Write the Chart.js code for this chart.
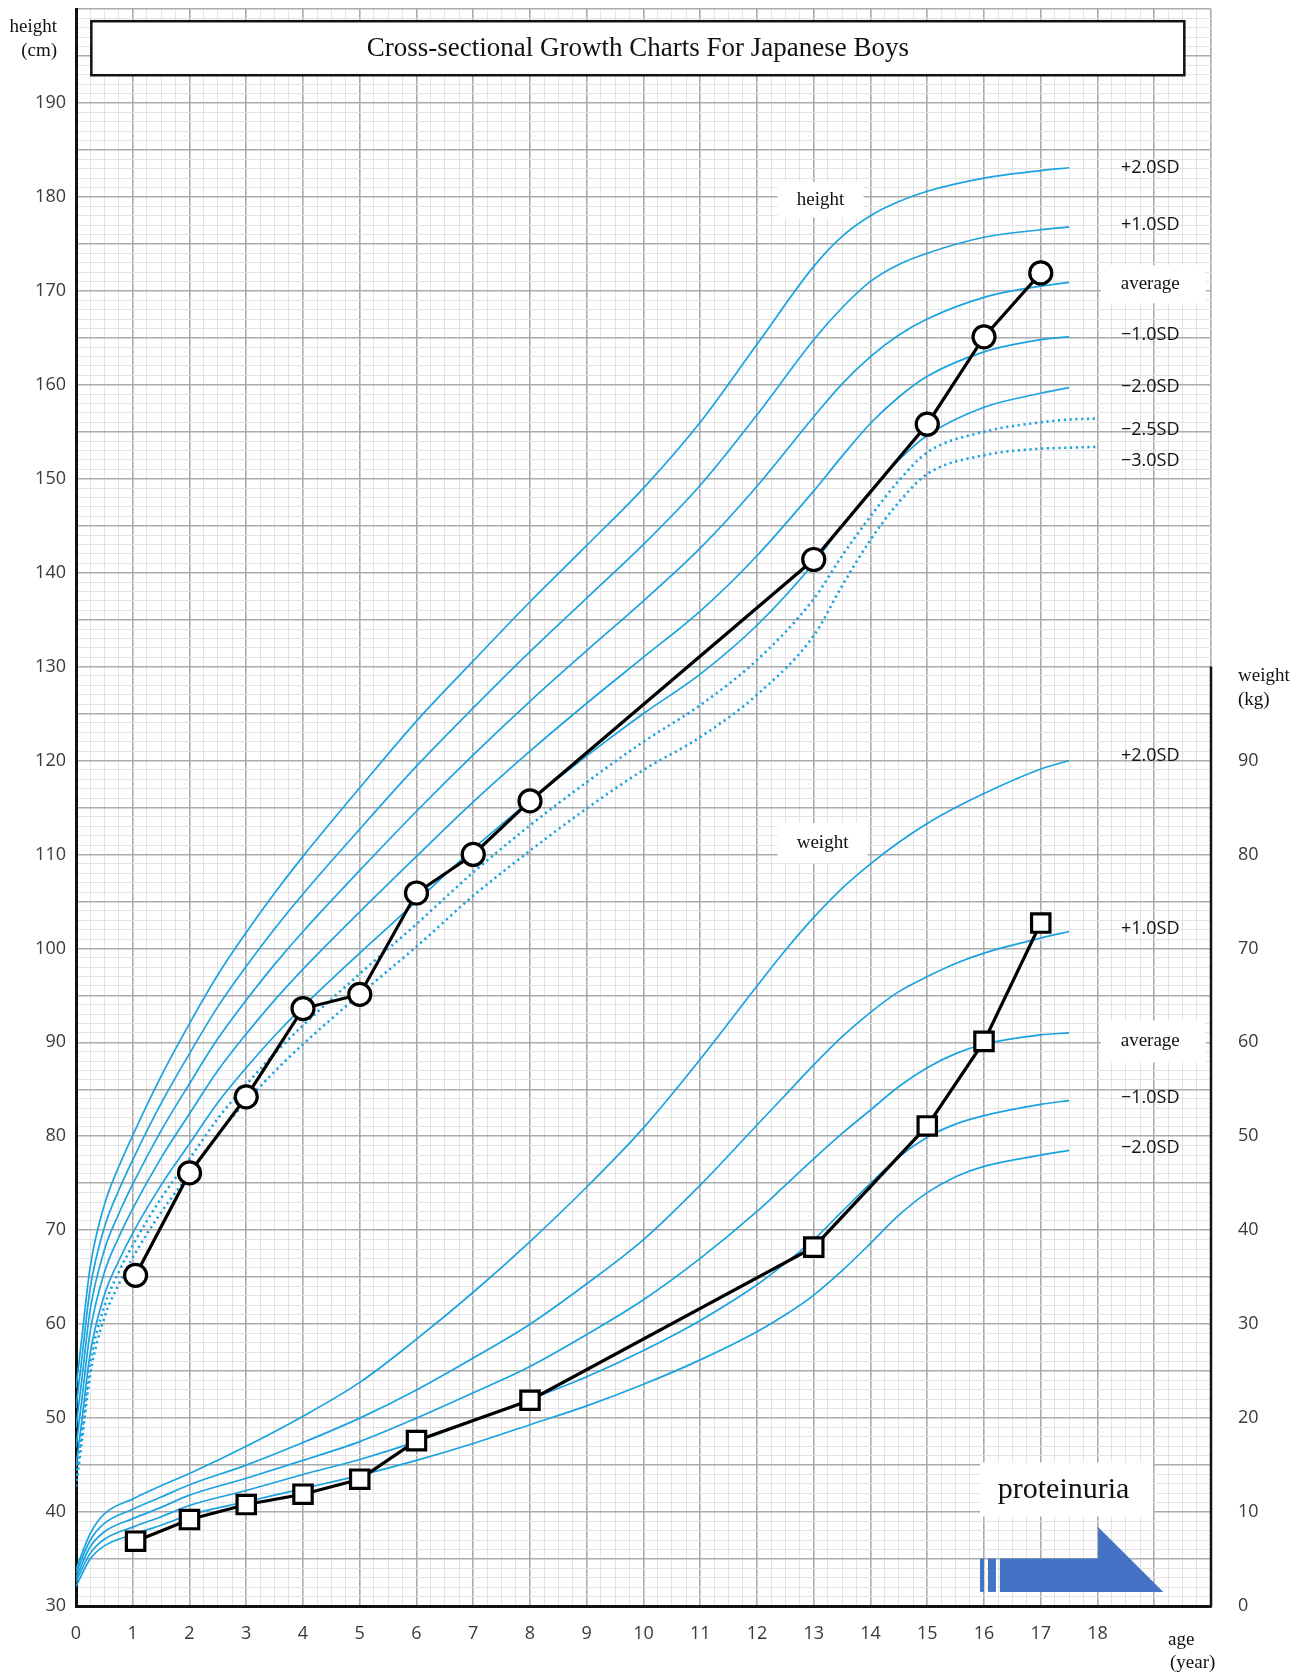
<!DOCTYPE html>
<html><head><meta charset="utf-8">
<script src="https://cdn.jsdelivr.net/npm/chart.js@4.4.1/dist/chart.umd.min.js"></script>
<style>html,body{margin:0;padding:0;background:#fff}#wrap{width:1307px;height:1673px;position:relative}</style>
</head><body><div id="wrap"><canvas id="c" width="1307" height="1673"></canvas></div>
<script>
// ---------------- data ----------------
const titleText = 'Cross-sectional Growth Charts For Japanese Boys';
const xTickMax = 18;

const heightAges = [0,0.1,0.25,0.5,0.75,1,1.5,2,2.5,3,3.5,4,5,6,7,8,9,10,11,12,13,13.5,14,14.5,15,16,17,17.5];
const heightP2SD = [53.2,58.4,66.1,72.7,76.7,80.1,86.4,92.0,97.2,101.7,105.9,109.8,117.1,124.2,130.6,136.9,142.9,149.0,156.0,164.3,172.6,175.8,178.0,179.5,180.6,182.0,182.8,183.1];
const heightP1SD = [51.1,56.2,63.8,70.3,74.2,77.5,83.5,88.8,93.8,98.1,102.1,105.8,112.7,119.4,125.6,131.6,137.3,143.0,149.3,156.8,164.8,168.2,171.0,172.8,174.0,175.7,176.5,176.8];
const heightAvg  = [49.0,54.0,61.5,67.9,71.7,74.9,80.6,85.6,90.4,94.5,98.3,101.8,108.3,114.6,120.6,126.3,131.7,137.0,142.6,149.2,156.6,160.1,163.0,165.3,167.0,169.3,170.5,170.9];
const heightM1SD = [46.9,51.8,59.2,65.5,69.2,72.3,77.7,82.4,87.0,90.9,94.5,97.8,103.9,109.8,115.6,121.0,126.1,131.0,135.9,141.8,148.7,152.4,155.9,158.7,160.9,163.5,164.8,165.1];
const heightM2SD = [44.8,49.6,56.9,63.1,66.7,69.7,74.8,79.2,83.6,87.3,90.7,93.8,99.5,105.0,110.6,115.7,120.5,125.0,129.2,134.4,141.0,145.0,148.7,152.0,154.6,157.6,159.1,159.7];
const dottedAges = [0,0.1,0.25,0.5,0.75,1,1.5,2,2.5,3,3.5,4,5,6,7,8,9,10,11,12,13,13.5,14,14.5,15,16,17,17.5,18];
const heightM25SD = [43.8,48.5,55.8,61.9,65.5,68.4,73.4,77.6,81.9,85.5,88.8,91.8,97.3,102.6,108.1,113.1,117.7,122.0,125.9,130.7,137.2,141.8,146.0,149.8,152.8,155.0,156.0,156.3,156.4];
const heightM3SD  = [42.7,47.4,54.6,60.7,64.2,67.1,71.9,76.0,80.2,83.7,86.9,89.8,95.1,100.2,105.6,110.4,114.9,119.0,122.5,127.0,133.3,138.6,143.5,147.5,150.5,152.5,153.2,153.3,153.4];

const weightAges = [0,0.25,0.5,1,1.5,2,3,4,5,6,7,8,9,10,11,12,12.5,13,13.5,14,14.5,15,15.5,16,17,17.5];
const weightP2SD = [3.9,7.7,9.8,11.4,12.8,14.1,17.0,20.2,23.8,28.4,33.4,38.8,44.6,50.9,58.2,66.0,69.8,73.3,76.4,79.0,81.3,83.3,85.0,86.5,89.1,90.0];
const weightP1SD = [3.5,7.0,8.8,10.3,11.6,12.9,15.0,17.4,20.0,23.0,26.4,30.0,34.3,39.0,44.8,51.2,54.4,57.6,60.6,63.2,65.4,67.0,68.4,69.5,71.1,71.8];
const weightAvg  = [3.0,6.3,7.9,9.3,10.5,11.8,13.6,15.5,17.5,20.0,22.7,25.5,28.9,32.6,37.0,42.0,44.8,47.6,50.3,52.8,55.3,57.3,58.8,59.8,60.8,61.0];
const weightM1SD = [2.6,5.6,7.1,8.4,9.5,10.7,12.3,14.0,15.6,17.5,19.7,22.0,24.4,27.2,30.4,34.2,36.5,39.0,42.0,45.0,47.8,49.9,51.3,52.2,53.4,53.8];
const weightM2SD = [2.1,5.0,6.4,7.6,8.6,9.7,11.1,12.5,13.9,15.5,17.3,19.3,21.3,23.6,26.2,29.2,31.0,33.1,35.7,38.6,41.6,44.0,45.7,46.8,48.0,48.5];

const patientHeightAges = [1.05,2,3,4,5,6,7,8,13,15,16,17];
const patientHeight     = [65.2,76.1,84.2,93.6,95.1,105.9,110.0,115.7,141.4,155.8,165.1,171.9];
const patientWeightAges = [1.05,2,3,4,5,6,8,13,15,16,17];
const patientWeight     = [6.9,9.2,10.8,11.9,13.5,17.6,21.9,38.2,51.1,60.1,72.7];

const heightLabels = [['+2.0SD',183.1],['+1.0SD',177.05],['average',170.7],['\u22121.0SD',165.3],['\u22122.0SD',159.8],['\u22122.5SD',155.2],['\u22123.0SD',151.9]];
const weightLabels = [['+2.0SD',90.45],['+1.0SD',72.05],['average',60.1],['\u22121.0SD',54.1],['\u22122.0SD',48.75]];
const proteinuriaArrow = {bar1:[15.93,16.0], bar2:[16.07,16.21], body:[16.28,18.01], tip:19.16, low:1.5, high:5.05, headTop:8.4};

// ---------------- helpers ----------------
const BLUE = '#1ba3e0';
const pts = (xs, ys) => xs.map((x, i) => ({x, y: ys[i]}));
function curve(xs, ys, axis, dotted) {
  return {data: pts(xs, ys), yAxisID: axis, borderColor: BLUE, borderWidth: dotted ? 2.6 : 1.7,
    borderDash: dotted ? [2.2, 3.6] : [], pointRadius: 0, cubicInterpolationMode: 'monotone', fill: false};
}
const SERIF = '"Liberation Serif", "Times New Roman", serif';
const SANS = '"Open Sans", "Noto Sans", sans-serif';
const noPad = s => { s.paddingTop = 0; s.paddingBottom = 0; s.paddingLeft = 0; s.paddingRight = 0; };

const chrome = {
  id: 'chrome',
  afterDatasetsDraw(chart) {
    const {ctx, scales: {x, y, y2}} = chart;
    ctx.save();
    const box = (cx, cy, w, h) => { ctx.fillStyle = '#fff'; ctx.fillRect(cx - w / 2, cy - h / 2, w, h); };
    const lx = x.getPixelForValue(18.93);
    ctx.textAlign = 'center'; ctx.textBaseline = 'middle';
    heightLabels.forEach(([t, v]) => {
      const py = y.getPixelForValue(v);
      if (t === 'average') { box(lx + 3, py, 105, 38); ctx.font = '19px ' + SERIF; }
      else ctx.font = '18px ' + SANS;
      ctx.fillStyle = '#111'; ctx.fillText(t, lx, py);
    });
    weightLabels.forEach(([t, v]) => {
      const py = y2.getPixelForValue(v);
      if (t === 'average') { box(lx + 3, py, 105, 42); ctx.font = '19px ' + SERIF; }
      else ctx.font = '18px ' + SANS;
      ctx.fillStyle = '#111'; ctx.fillText(t, lx, py);
    });
    const hx = x.getPixelForValue(13.12);
    box(hx, y.getPixelForValue(179.7), 86, 36);
    box(hx + 2, y2.getPixelForValue(81.2), 90, 40);
    ctx.fillStyle = '#111'; ctx.font = '19px ' + SERIF;
    ctx.fillText('height', hx, y.getPixelForValue(179.7));
    ctx.fillText('weight', hx + 2, y2.getPixelForValue(81.2));
    const px1 = x.getPixelForValue(15.93), px2 = x.getPixelForValue(18.98);
    const pyc = y2.getPixelForValue(12.4);
    ctx.fillStyle = '#fff'; ctx.fillRect(px1, pyc - 27, px2 - px1, 54);
    ctx.fillStyle = '#111'; ctx.font = '30px ' + SERIF;
    ctx.fillText('proteinuria', (px1 + px2) / 2 - 3, pyc + 1);
    const A = proteinuriaArrow;
    const yl = y2.getPixelForValue(A.low), yh = y2.getPixelForValue(A.high), yt = y2.getPixelForValue(A.headTop);
    ctx.fillStyle = '#4472c4';
    [A.bar1, A.bar2].forEach(([a, b]) => {
      const xa = x.getPixelForValue(a), xb = x.getPixelForValue(b);
      ctx.fillRect(xa, yh, xb - xa, yl - yh);
    });
    const b0 = x.getPixelForValue(A.body[0]), b1 = x.getPixelForValue(A.body[1]), tip = x.getPixelForValue(A.tip);
    ctx.beginPath();
    ctx.moveTo(b0, yh); ctx.lineTo(b1, yh); ctx.lineTo(b1, yt); ctx.lineTo(tip, yl); ctx.lineTo(b0, yl); ctx.closePath();
    ctx.fill();
    ctx.restore();
  },
  afterDraw(chart) {
    const {ctx, chartArea: ca, scales: {x, y, y2}} = chart;
    ctx.save();
    ctx.strokeStyle = '#111'; ctx.lineWidth = 2.5;
    ctx.beginPath(); ctx.moveTo(ca.right, y2.getPixelForValue(100)); ctx.lineTo(ca.right, ca.bottom + 1); ctx.stroke();
    const tx0 = x.getPixelForValue(0.27), tx1 = x.getPixelForValue(19.53);
    const ty0 = y.getPixelForValue(198.7), ty1 = y.getPixelForValue(192.95);
    ctx.fillStyle = '#fff'; ctx.fillRect(tx0, ty0, tx1 - tx0, ty1 - ty0);
    ctx.lineWidth = 2.5; ctx.strokeStyle = '#111'; ctx.strokeRect(tx0, ty0, tx1 - tx0, ty1 - ty0);
    ctx.fillStyle = '#111'; ctx.font = '27px ' + SERIF; ctx.textAlign = 'center'; ctx.textBaseline = 'middle';
    ctx.fillText(titleText, (tx0 + tx1) / 2, (ty0 + ty1) / 2 + 1);
    ctx.font = '19px ' + SERIF; ctx.textAlign = 'right';
    ctx.fillText('height', 57, 27); ctx.fillText('(cm)', 57, 51);
    ctx.textAlign = 'left';
    ctx.fillText('weight', 1238, 676); ctx.fillText('(kg)', 1238, 700);
    ctx.fillText('age', 1168, 1640); ctx.fillText('(year)', 1170, 1663);
    ctx.restore();
  }
};

const majorX = v => Number.isInteger(v);
const majorY = v => Math.abs(v % 5) < 1e-9;

new Chart(document.getElementById('c'), {
  type: 'line',
  data: {
    datasets: [
      {data: pts(patientHeightAges, patientHeight), yAxisID: 'y', borderColor: '#000', borderWidth: 3.2,
       pointStyle: 'circle', pointRadius: 11, pointBorderWidth: 3.2, pointBackgroundColor: '#fff', pointBorderColor: '#000', tension: 0},
      {data: pts(patientWeightAges, patientWeight), yAxisID: 'y2', borderColor: '#000', borderWidth: 3.2,
       pointStyle: 'rect', pointRadius: 13, pointBorderWidth: 3.2, pointBackgroundColor: '#fff', pointBorderColor: '#000', tension: 0},
      curve(heightAges, heightP2SD, 'y'), curve(heightAges, heightP1SD, 'y'), curve(heightAges, heightAvg, 'y'),
      curve(heightAges, heightM1SD, 'y'), curve(heightAges, heightM2SD, 'y'),
      curve(dottedAges, heightM25SD, 'y', true), curve(dottedAges, heightM3SD, 'y', true),
      curve(weightAges, weightP2SD, 'y2'), curve(weightAges, weightP1SD, 'y2'), curve(weightAges, weightAvg, 'y2'),
      curve(weightAges, weightM1SD, 'y2'), curve(weightAges, weightM2SD, 'y2')
    ]
  },
  options: {
    responsive: false, animation: false, devicePixelRatio: 1,
    layout: {autoPadding: false, padding: {top: 9, left: 0, right: 0, bottom: 0}},
    plugins: {legend: {display: false}, tooltip: {enabled: false}},
    elements: {line: {borderCapStyle: 'butt'}},
    scales: {
      x: {type: 'linear', min: 0, max: 20,
        afterFit: s => { s.height = 67; noPad(s); },
        ticks: {stepSize: 0.25, autoSkip: false, maxRotation: 0, padding: 17, color: '#3a3a3a', font: {family: SANS, size: 18},
          callback: v => (Number.isInteger(v) && v <= xTickMax) ? String(v) : ''},
        grid: {drawTicks: false, color: c => majorX(c.tick.value) ? '#ababab' : '#e3e3e3', lineWidth: c => majorX(c.tick.value) ? 1.6 : 1},
        border: {color: '#111', width: 3}},
      y: {type: 'linear', position: 'left', min: 30, max: 200,
        afterFit: s => { s.width = 76; noPad(s); },
        ticks: {stepSize: 1, autoSkip: false, padding: 10, color: '#3a3a3a', font: {family: SANS, size: 18},
          callback: v => (v % 10 === 0 && v < 200) ? String(v) : ''},
        grid: {drawTicks: false, color: c => majorY(c.tick.value) ? '#ababab' : '#e3e3e3', lineWidth: c => majorY(c.tick.value) ? 1.6 : 1},
        border: {color: '#111', width: 3}},
      y2: {type: 'linear', position: 'right', min: 0, max: 170,
        afterFit: s => { s.width = 96; noPad(s); },
        ticks: {stepSize: 10, autoSkip: false, padding: 27, color: '#3a3a3a', font: {family: SANS, size: 18},
          callback: v => v <= 90 ? String(v) : ''},
        grid: {display: false, drawTicks: false}, border: {display: false}}
    }
  },
  plugins: [chrome]
});
</script></body></html>
